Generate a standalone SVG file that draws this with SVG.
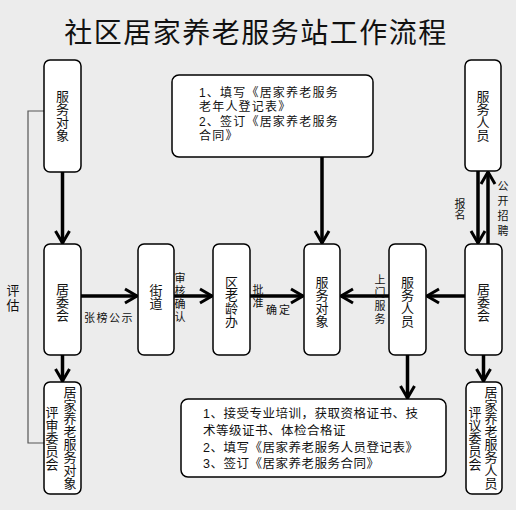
<svg xmlns="http://www.w3.org/2000/svg" width="516" height="510" viewBox="0 0 516 510">
<defs>
<marker id="ah" markerUnits="userSpaceOnUse" markerWidth="16" markerHeight="18" refX="13" refY="8" orient="auto" overflow="visible">
<path d="M1,1 L13,8 L1,15" fill="none" stroke="#000" stroke-width="3"/>
</marker>
<style>
.box{fill:#fff;stroke:#000;stroke-width:1.5}
.t{font-family:"Noto Sans CJK SC","Liberation Sans",sans-serif;fill:#111}
.h{font-family:"Liberation Sans","Noto Sans CJK SC",sans-serif;fill:#111}
.v{writing-mode:vertical-rl;text-anchor:middle;font-size:13px}
.lab{font-size:11px}
.arr{stroke:#000;stroke-width:3.5;fill:none;marker-end:url(#ah)}
.fb{stroke:#555;stroke-width:1.2;fill:none}
</style>
</defs>
<rect width="516" height="510" fill="#ececec"/>
<text class="t" x="256" y="43" font-size="28" text-anchor="middle" letter-spacing="1.5">社区居家养老服务站工作流程</text>

<g id="connectors">
<polyline class="fb" points="44,111 28,111 28,443 44,443"/>
<line class="arr" x1="62.5" y1="172" x2="62.5" y2="243"/>
<line class="arr" x1="62.5" y1="355" x2="62.5" y2="381"/>
<line class="arr" x1="81" y1="296" x2="137" y2="296"/>
<line class="arr" x1="174" y1="296" x2="212" y2="296"/>
<line class="arr" x1="250" y1="296" x2="303" y2="296"/>
<line class="arr" x1="389" y1="296" x2="341" y2="296"/>
<line class="arr" x1="465" y1="296" x2="427" y2="296"/>
<line class="arr" x1="322" y1="157" x2="322" y2="243"/>
<line class="arr" x1="478" y1="171" x2="478" y2="243"/>
<line class="arr" x1="488" y1="244" x2="488" y2="172"/>
<line class="arr" x1="407.5" y1="355" x2="407.5" y2="398"/>
<line class="arr" x1="483.5" y1="355" x2="483.5" y2="381"/>
<text class="t lab" x="84" y="322" letter-spacing="1.5">张榜公示</text>
<text class="t v lab" x="180" y="298" letter-spacing="2">审核确认</text>
<text class="t v lab" x="258" y="297" letter-spacing="2">批准</text>
<text class="t lab" x="266" y="314" letter-spacing="2">确定</text>
<text class="t v lab" x="380" y="300" letter-spacing="2">上门服务</text>
<text class="t v lab" x="460" y="209" letter-spacing="0">报名</text>
<text class="t v lab" x="503" y="210" letter-spacing="4">公开招聘</text>
<text class="t v" x="13" y="299" letter-spacing="2">评估</text>
</g>

<g id="n-obj-top">
<rect class="box" x="44" y="60" width="37" height="112" rx="6"/>
<text class="t v" x="62.5" y="116">服务对象</text>
</g>
<g id="n-form-top">
<rect class="box" x="172" y="75" width="201" height="82" rx="7"/>
<text class="h" font-size="12" letter-spacing="1.2">
<tspan x="199" y="97">1、填写《居家养老服务</tspan>
<tspan x="199" y="111">老年人登记表》</tspan>
<tspan x="199" y="126">2、签订《居家养老服务</tspan>
<tspan x="199" y="140">合同》</tspan>
</text>
</g>
<g id="n-staff-top">
<rect class="box" x="465" y="60" width="36" height="111" rx="6"/>
<text class="t v" x="483" y="116">服务人员</text>
</g>
<g id="n-jwh-left">
<rect class="box" x="44" y="244" width="37" height="111" rx="6"/>
<text class="t v" x="62.5" y="302">居委会</text>
</g>
<g id="n-street">
<rect class="box" x="138" y="244" width="36" height="111" rx="6"/>
<text class="t v" x="156" y="297">街道</text>
</g>
<g id="n-aging">
<rect class="box" x="213" y="244" width="37" height="111" rx="6"/>
<text class="t v" x="231.5" y="302">区老龄办</text>
</g>
<g id="n-obj-mid">
<rect class="box" x="304" y="244" width="36" height="111" rx="6"/>
<text class="t v" x="322" y="302">服务对象</text>
</g>
<g id="n-staff-mid">
<rect class="box" x="389" y="244" width="37" height="111" rx="6"/>
<text class="t v" x="407.5" y="302">服务人员</text>
</g>
<g id="n-jwh-right">
<rect class="box" x="465" y="244" width="37" height="111" rx="6"/>
<text class="t v" x="483.5" y="302">居委会</text>
</g>
<g id="n-review-left">
<rect class="box" x="44" y="382" width="37" height="112" rx="6"/>
<text class="t v" x="70" y="438">居家养老服务对象</text>
<text class="t v" x="52" y="438">评审委员会</text>
</g>
<g id="n-form-bottom">
<rect class="box" x="181" y="399" width="265" height="78" rx="7"/>
<text class="h" font-size="12.5" letter-spacing="0.5">
<tspan x="203" y="418">1、接受专业培训，获取资格证书、技</tspan>
<tspan x="203" y="435">术等级证书、体检合格证</tspan>
<tspan x="203" y="452">2、填写《居家养老服务人员登记表》</tspan>
<tspan x="203" y="468">3、签订《居家养老服务合同》</tspan>
</text>
</g>
<g id="n-review-right">
<rect class="box" x="466" y="382" width="36" height="112" rx="6"/>
<text class="t v" x="491" y="438">居家养老服务人员</text>
<text class="t v" x="475" y="438">评议委员会</text>
</g>
</svg>
